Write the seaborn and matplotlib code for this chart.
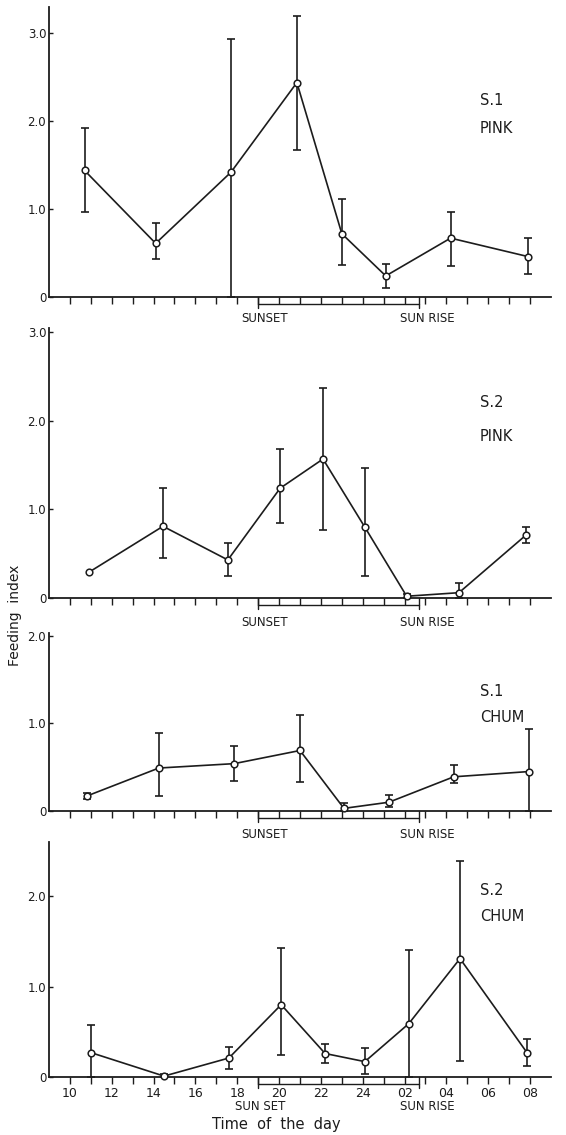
import matplotlib
matplotlib.use("Agg")
import matplotlib.pyplot as plt
import seaborn as sns
import numpy as np

# Time axis in hours (24 = midnight, 32 = 08 next morning)
hour_ticks = list(range(10, 33))
hour_labels = ["10", "12", "14", "16", "18", "20", "22", "24", "02", "04", "06", "08"]
sunset, sunrise = 19.0, 26.7

# S.1 PINK
t_s1_pink = [10.7, 14.1, 17.7, 20.85, 23.0, 25.1, 28.2, 31.9]
v_s1_pink = [1.44, 0.61, 1.42, 2.44, 0.72, 0.24, 0.67, 0.46]
hi_s1_pink = [1.92, 0.84, 2.94, 3.20, 1.11, 0.38, 0.97, 0.67]
lo_s1_pink = [0.97, 0.43, 0.00, 1.67, 0.36, 0.10, 0.35, 0.26]

# S.2 PINK
t_s2_pink = [10.9, 14.45, 17.55, 20.05, 22.1, 24.1, 26.1, 28.6, 31.8]
v_s2_pink = [0.29, 0.81, 0.43, 1.24, 1.57, 0.80, 0.02, 0.06, 0.71]
hi_s2_pink = [0.29, 1.24, 0.62, 1.68, 2.37, 1.47, 0.05, 0.17, 0.80]
lo_s2_pink = [0.29, 0.45, 0.25, 0.85, 0.77, 0.25, 0.00, 0.00, 0.62]

# S.1 CHUM
t_s1_chum = [10.8, 14.25, 17.85, 21.0, 23.1, 25.25, 28.35, 31.95]
v_s1_chum = [0.17, 0.49, 0.54, 0.69, 0.03, 0.10, 0.39, 0.45]
hi_s1_chum = [0.21, 0.89, 0.74, 1.10, 0.09, 0.18, 0.52, 0.94]
lo_s1_chum = [0.14, 0.17, 0.34, 0.33, 0.00, 0.05, 0.32, 0.00]

# S.2 CHUM
t_s2_chum = [11.0, 14.5, 17.6, 20.1, 22.2, 24.1, 26.2, 28.65, 31.85]
v_s2_chum = [0.27, 0.01, 0.21, 0.80, 0.26, 0.17, 0.59, 1.31, 0.27]
hi_s2_chum = [0.57, 0.03, 0.33, 1.43, 0.37, 0.32, 1.41, 2.39, 0.42]
lo_s2_chum = [0.00, 0.00, 0.09, 0.24, 0.16, 0.03, 0.00, 0.18, 0.12]

panels = [
    ("S.1", "PINK", t_s1_pink, v_s1_pink, hi_s1_pink, lo_s1_pink, 3.3, [0, 1, 2, 3], (2.24, 1.92), "SUNSET"),
    ("S.2", "PINK", t_s2_pink, v_s2_pink, hi_s2_pink, lo_s2_pink, 3.05, [0, 1, 2, 3], (2.21, 1.82), "SUNSET"),
    ("S.1", "CHUM", t_s1_chum, v_s1_chum, hi_s1_chum, lo_s1_chum, 2.03, [0, 1, 2], (1.36, 1.07), "SUNSET"),
    ("S.2", "CHUM", t_s2_chum, v_s2_chum, hi_s2_chum, lo_s2_chum, 2.6, [0, 1, 2], (2.06, 1.78), "SUN SET"),
]

# pixel layout (axis bottom / top in figure pixels) and label offsets
W, H = 566, 1135
ax_pix = [(297, 7), (598, 328), (811, 633), (1077, 842)]
sun_label_drop = [21, 25, 24, 30]

sns.set_style("ticks")
plt.rcParams["font.family"] = ["DejaVu Sans"]
ink = "#1c1c1c"

fig = plt.figure(figsize=(W / 100, H / 100), dpi=100)

for i, (site, species, t, v, hi, lo, ytop, yt, txt_y, sunset_txt) in enumerate(panels):
    bot, top = ax_pix[i]
    ax = fig.add_axes([49 / W, (H - bot) / H, 502 / W, (bot - top) / H])
    t = np.array(t); v = np.array(v); hi = np.array(hi); lo = np.array(lo)

    has_err = (hi - lo) > 0
    ax.errorbar(t[has_err], v[has_err],
                yerr=[v[has_err] - lo[has_err], hi[has_err] - v[has_err]],
                fmt="none", ecolor=ink, elinewidth=1.2, capsize=2.8, capthick=1.2,
                zorder=2, clip_on=False)
    sns.lineplot(x=t, y=v, ax=ax, color=ink, lw=1.2, marker="o", markersize=4.8,
                 markerfacecolor="white", markeredgecolor=ink, markeredgewidth=1.1,
                 zorder=3, clip_on=False)

    ax.set_xlim(9, 33)
    ax.set_ylim(0, ytop)
    ax.set_xlabel("")
    ax.set_ylabel("")
    sns.despine(ax=ax)
    for s in ("left", "bottom"):
        ax.spines[s].set_color(ink)
        ax.spines[s].set_linewidth(1.3)

    ax.set_yticks(yt)
    ax.set_yticklabels(["0" if y == 0 else f"{y:.1f}" for y in yt], fontsize=8.5, color=ink)
    ax.tick_params(axis="y", direction="in", length=3, width=1, color=ink, pad=2)

    ax.set_xticks(hour_ticks)
    if i == 3:
        labs = []
        k = 0
        for h in hour_ticks:
            if h % 2 == 0:
                labs.append(hour_labels[k]); k += 1
            else:
                labs.append("")
        ax.set_xticklabels(labs, fontsize=9, color=ink)
    else:
        ax.set_xticklabels([])
    ax.tick_params(axis="x", direction="out", length=5, width=1, color=ink, pad=2)

    # night strip under the axis
    ax_h = bot - top
    sh = 6.5 / ax_h
    tr = ax.get_xaxis_transform()
    ax.plot([sunset, sunrise], [-sh, -sh], color=ink, lw=1.0, transform=tr, clip_on=False)
    for xx in (sunset, sunrise):
        ax.plot([xx, xx], [0, -1.7 * sh], color=ink, lw=1.0, transform=tr, clip_on=False)
    drop = sun_label_drop[i] / ax_h
    ax.text(19.3 if i < 3 else 19.1, -drop, sunset_txt, transform=tr, ha="center", va="center",
            fontsize=8.5, color=ink)
    ax.text(27.1, -drop, "SUN RISE", transform=tr, ha="center", va="center",
            fontsize=8.5, color=ink)

    ax.text(29.6, txt_y[0], site, ha="left", va="center", fontsize=10.5, color=ink)
    ax.text(29.6, txt_y[1], species, ha="left", va="center", fontsize=10.5, color=ink)

fig.text(15 / W, 1 - 615 / H, "Feeding  index", rotation=90, ha="center", va="center",
         fontsize=10, color=ink)
fig.text(276 / W, 1 - 1125 / H, "Time  of  the  day", ha="center", va="center",
         fontsize=10.5, color=ink)

fig.savefig("out.png", dpi=100)
